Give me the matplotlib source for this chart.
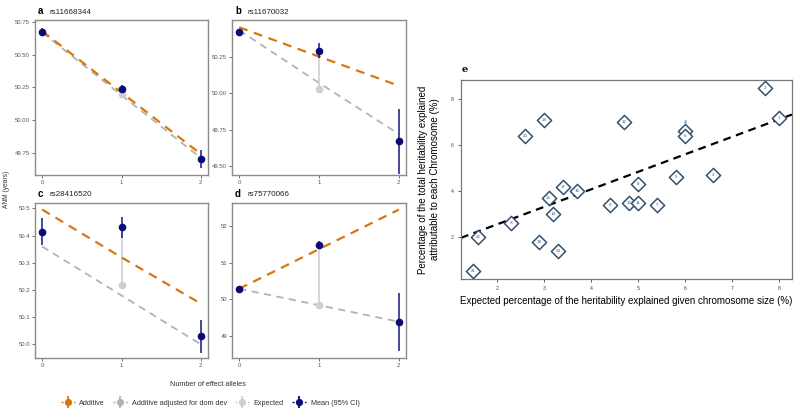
import numpy as np
import matplotlib
matplotlib.use("Agg")
import matplotlib.pyplot as plt
from matplotlib.lines import Line2D
from matplotlib.legend_handler import HandlerTuple

plt.rcParams['font.family'] = ['Liberation Sans', 'DejaVu Sans']

# ---------------- data: panels a-d ----------------
panel_letters = ['a', 'b', 'c', 'd']
snps = ['rs11668344', 'rs11670032', 'rs28416520', 'rs75770066']
n_alleles = [0, 1, 2]
mean_anm = [[50.675, 50.235, 49.70],
            [50.418, 50.29, 49.67],
            [50.415, 50.43, 50.03],
            [50.29, 51.49, 49.38]]
ci_half = [[0.03, 0.03, 0.07],
           [0.02, 0.05, 0.22],
           [0.05, 0.04, 0.06],
           [0.05, 0.10, 0.80]]
additive = [[50.68, 50.21, 49.74],
            [50.45, 50.25, 50.05],
            [50.496, 50.32, 50.15],
            [50.29, 51.37, 52.45]]
adjusted = [[50.67, 50.19, 49.71],
            [50.43, 50.07, 49.72],
            [50.36, 50.18, 50.00],
            [50.29, 49.84, 49.39]]
expected_het = [50.20, 50.03, 50.22, 49.84]
y_ticks = [[49.75, 50.00, 50.25, 50.50, 50.75],
           [49.50, 49.75, 50.00, 50.25],
           [50.0, 50.1, 50.2, 50.3, 50.4, 50.5],
           [49, 50, 51, 52]]
y_fmt = ['{:.2f}', '{:.2f}', '{:.1f}', '{:.0f}']
y_lims = [(49.58, 50.765), (49.44, 50.50), (49.95, 50.52), (48.4, 52.63)]

# ---------------- data: panel e ----------------
chrom_labels = ['1', '2', '3', '4', '5', '6', '7', '8', '9', '10', '11', '12',
                '13', '14', '15', '16', '17', '18', '19', '20', '21', '22', 'X']
expected_pct = [8.0, 7.7, 6.6, 6.0, 5.8, 6.0, 5.4, 5.0, 4.4, 4.8, 5.0, 4.7,
                3.3, 3.2, 3.1, 3.7, 3.4, 2.9, 3.0, 2.6, 1.5, 1.6, 2.3]
observed_pct = [7.2, 8.5, 4.7, 6.6, 4.6, 6.4, 3.4, 4.3, 3.4, 3.5, 3.5, 7.0,
                1.4, 3.0, 3.7, 4.0, 4.2, 1.8, 7.1, 6.4, 0.5, 2.0, 2.6]

ORANGE = '#d8760f'
GREY_DASH = '#b3b3b3'
EXP_GREY = '#cfcfcf'
NAVY = '#0b0b78'
FRAME = '#8c8c8c'
TICKC = '#555555'

W, H = 800, 417
fig = plt.figure(figsize=(W / 100, H / 100), dpi=100)

def px_axes(x0, y0, x1, y1):
    return fig.add_axes([x0 / W, 1 - y1 / H, (x1 - x0) / W, (y1 - y0) / H])

boxes = [(35, 20, 208, 175), (232, 20, 406, 175),
         (35, 203, 208, 358), (232, 203, 406, 358)]

for i, (x0, y0, x1, y1) in enumerate(boxes):
    ax = px_axes(x0, y0, x1, y1)
    x = np.array(n_alleles)
    ax.plot(x, additive[i], ls=(0, (4, 3)), color=ORANGE, lw=1.6, zorder=2)
    ax.plot(x, adjusted[i], ls=(0, (4, 3)), color=GREY_DASH, lw=1.3, zorder=1)
    # expected heterozygote value and its link to the observed mean
    ax.vlines(1, expected_het[i], mean_anm[i][1], color=EXP_GREY, lw=1.2, zorder=1)
    ax.plot([1], [expected_het[i]], 'o', color=EXP_GREY, ms=4.5, zorder=2)
    m = np.array(mean_anm[i])
    c = np.array(ci_half[i])
    ax.vlines(x, m - c, m + c, color=NAVY, lw=1.4, alpha=0.75, zorder=3)
    ax.plot(x, m, 'o', color=NAVY, ms=4.5, zorder=4)

    ax.set_xlim(-0.09, 2.09)
    ax.set_ylim(*y_lims[i])
    ax.set_xticks(n_alleles)
    ax.set_xticklabels([str(v) for v in n_alleles])
    ax.set_yticks(y_ticks[i])
    ax.set_yticklabels([y_fmt[i].format(v) for v in y_ticks[i]])
    ax.tick_params(labelsize=4.3, colors=TICKC, length=2, width=0.6, pad=1.5)
    for s in ax.spines.values():
        s.set_color(FRAME)
        s.set_linewidth(1.0)
    fig.text((x0 + 3) / W, 1 - (y0 - 9) / H, panel_letters[i], fontsize=7,
             fontweight='bold', ha='left', va='center')
    fig.text((x0 + 15) / W, 1 - (y0 - 8) / H, snps[i], fontsize=5.8,
             ha='left', va='center', color='#222222')

fig.text(7 / W, 1 - 189 / H, 'ANM (years)', rotation=90, fontsize=4.8,
         ha='center', va='center', color='#333333')
fig.text(208 / W, 1 - 384 / H, 'Number of effect alleles', fontsize=5.2,
         ha='center', va='center', color='#333333')

# legend
def key(col):
    return (Line2D([0], [0], color=col, ls=(0, (1.5, 1.5)), lw=1.0),
            Line2D([0], [0], color=col, marker='|', ms=9, mew=1.3, ls='none'),
            Line2D([0], [0], color=col, marker='o', ms=4.2, ls='none'))

handles = [key(ORANGE), key(GREY_DASH), key(EXP_GREY), key(NAVY)]
labels = ['Additive', 'Additive adjusted for dom dev', 'Expected', 'Mean (95% CI)']
fig.legend(handles, labels, loc='center', bbox_to_anchor=(210 / W, 1 - 403 / H),
           ncol=4, frameon=False, fontsize=5.2, handlelength=2.0,
           handletextpad=0.6, columnspacing=1.1, labelcolor='#333333',
           handler_map={tuple: HandlerTuple(ndivide=1)})

# ---------------- panel e ----------------
axe = px_axes(461, 80, 792, 279)
xe = np.array(expected_pct)
ye = np.array(observed_pct)
slope, intercept = np.polyfit(xe, ye, 1)
xl = np.array([1.24, 8.27])
axe.plot(xl, intercept + slope * xl, color='black', ls=(0, (3.5, 2.5)), lw=1.6, zorder=1)
axe.scatter(xe, ye, marker='D', s=52, facecolor='white', edgecolor='#33506e',
            linewidths=1.1, zorder=3)
for lab, xv, yv in zip(chrom_labels, xe, ye):
    if lab == '4':
        axe.text(xv, yv + 0.38, lab, fontsize=3.8, ha='center', va='center',
                 color='#33506e', zorder=4)
    else:
        axe.text(xv, yv, lab, fontsize=3.2, ha='center', va='center',
                 color='#33506e', zorder=4)
axe.set_xlim(1.24, 8.27)
axe.set_ylim(0.17, 8.84)
axe.set_xticks([2, 3, 4, 5, 6, 7, 8])
axe.set_yticks([2, 4, 6, 8])
axe.tick_params(labelsize=3.8, colors='#444444', length=2, width=0.6, pad=3)
for s in axe.spines.values():
    s.set_color('#777777')
    s.set_linewidth(0.9)
axe.set_xlabel('Expected percentage of the heritability explained given chromosome size (%)',
               fontsize=7, labelpad=4)
axe.set_ylabel('Percentage of the total heritability explained\nattributable to each Chromosome (%)',
               fontsize=7, labelpad=8)
fig.text(465 / W, 1 - 69 / H, 'e', fontsize=7, family='DejaVu Serif',
         fontweight='bold', ha='center', va='center')

fig.savefig('out.png', dpi=100)
